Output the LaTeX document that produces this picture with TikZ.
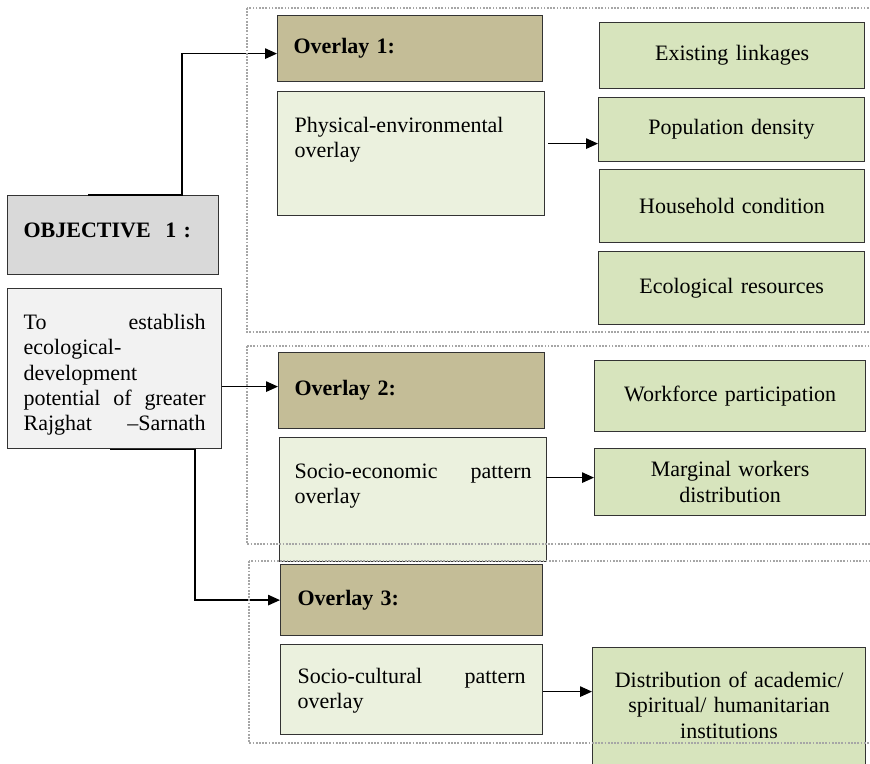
\documentclass[tikz,border=0pt]{standalone}
\usepackage{fontspec}
\setmainfont{Liberation Serif}
\usetikzlibrary{arrows.meta}

\definecolor{headfill}{HTML}{C4BD97}
\definecolor{palegreen}{HTML}{EBF1DE}
\definecolor{factorgreen}{HTML}{D7E4BD}
\definecolor{objgray}{HTML}{D9D9D9}
\definecolor{notegray}{HTML}{F2F2F2}
\definecolor{framegray}{HTML}{A6A6A6}

% a line whose words are spread over the full text width
\newcommand{\fullline}[1]{\leavevmode\hbox to\linewidth{#1}}

\begin{document}
\begin{tikzpicture}[
    x=1pt, y=-1pt,
    font=\fontsize{22}{25.3}\selectfont,
    box/.style={draw=black!80, line width=1.2pt, anchor=north west, inner sep=0pt},
    headbox/.style={box, fill=headfill, font=\fontsize{22}{25.3}\selectfont\bfseries, align=left},
    factor/.style={box, fill=factorgreen, align=center},
    overlaybox/.style={box, fill=palegreen, align=left},
    link/.style={line width=1.3pt, draw=black},
    arrow/.style={link, -{Triangle[length=12pt,width=10.5pt]}},
    frame/.style={draw=framegray, line width=1.7pt, dash pattern=on 1.7pt off 1.5pt}
  ]
  \useasboundingbox (0,0) rectangle (870,763);

  % objective
  \node[box, fill=objgray, font=\fontsize{22}{25.3}\selectfont\bfseries, align=left,
        inner xsep=16pt, minimum width=211pt, text width=179pt,
        text height=42pt, text depth=37pt] (obj) at (7,195) {OBJECTIVE~ 1 :};
  \node[box, fill=notegray, align=left, inner xsep=16pt, minimum width=214pt,
        text width=182pt, text height=41pt, text depth=119pt] (aim) at (7,288)
    {\fullline{To\hfill establish}\\
     ecological-\\
     development\\
     \fullline{potential\hfill of\hfill greater}\\
     \fullline{Rajghat\hfill --Sarnath}};

  % overlay 1
  \node[headbox, inner xsep=16pt, minimum width=265pt, minimum height=66pt,
        text width=233pt] (ov1) at (277,15) {Overlay 1:};
  \node[overlaybox, inner xsep=17pt, minimum width=267pt, text width=233pt,
        text height=41pt, text depth=83pt] (phys) at (277,91)
    {Physical-environmental\\overlay};
  \node[factor, minimum width=265pt, minimum height=66pt, text width=240pt] (exist) at (599,22) {Existing linkages};
  \node[factor, minimum width=266pt, minimum height=64pt, text width=240pt] (popd) at (598,97) {Population density};
  \node[factor, minimum width=265pt, minimum height=73pt, text width=240pt] (house) at (599,169) {Household condition};
  \node[factor, minimum width=266pt, minimum height=73pt, text width=240pt] (ecol) at (598,251) {Ecological resources};

  % overlay 2
  \node[headbox, inner xsep=16pt, minimum width=266pt, minimum height=76pt,
        text width=234pt] (ov2) at (278,352) {Overlay 2:};
  \node[overlaybox, inner xsep=15pt, minimum width=267pt, text width=237pt,
        text height=41pt, text depth=83pt] (econ) at (279,437)
    {\fullline{Socio-economic\hfill pattern}\\overlay};
  \node[factor, minimum width=271pt, minimum height=71pt, text width=245pt] (work) at (594,360) {Workforce participation};
  \node[factor, minimum width=271pt, minimum height=67pt, text width=245pt] (marg) at (594,448) {Marginal workers\\distribution};

  % overlay 3
  \node[headbox, inner xsep=17pt, minimum width=262pt, minimum height=71pt,
        text width=228pt] (ov3) at (280,564) {Overlay 3:};
  \node[overlaybox, inner xsep=17pt, minimum width=262pt, text width=228pt,
        text height=39pt, text depth=51pt] (cult) at (280,644)
    {\fullline{Socio-cultural\hfill pattern}\\overlay};
  \node[factor, inner xsep=14pt, minimum width=273pt, text width=245pt,
        text height=40pt, text depth=100pt] (dist) at (592,647)
    {Distribution of academic/\\spiritual/ humanitarian\\institutions};

  % connectors from the objective to the overlays
  \draw[arrow] ([xshift=81pt]obj.north west) -- ([xshift=175pt]obj.north west)
    |- ([yshift=-5pt]ov1.west);
  \draw[arrow] ([yshift=-18pt]aim.east) -- ([yshift=-18pt]aim.east -| ov2.west);
  \draw[arrow] ([xshift=103pt]aim.south west) -- ([xshift=188pt]aim.south west)
    |- (ov3.west);

  % connectors from each overlay to its factors
  \draw[arrow] ([xshift=3pt,yshift=10pt]phys.east) -- ([yshift=10pt]phys.east -| popd.west);
  \draw[arrow] ([xshift=-1pt,yshift=22pt]econ.east) -- ([yshift=22pt]econ.east -| marg.west);
  \draw[arrow] ([yshift=-2pt]cult.east) -- ([yshift=-2pt]cult.east -| dist.west);

  % dotted group frames
  \draw[frame] (247,8) rectangle (885,332);
  \draw[frame] (247,346) rectangle (885,544);
  \draw[frame] (249,561) rectangle (885,743);
\end{tikzpicture}
\end{document}
